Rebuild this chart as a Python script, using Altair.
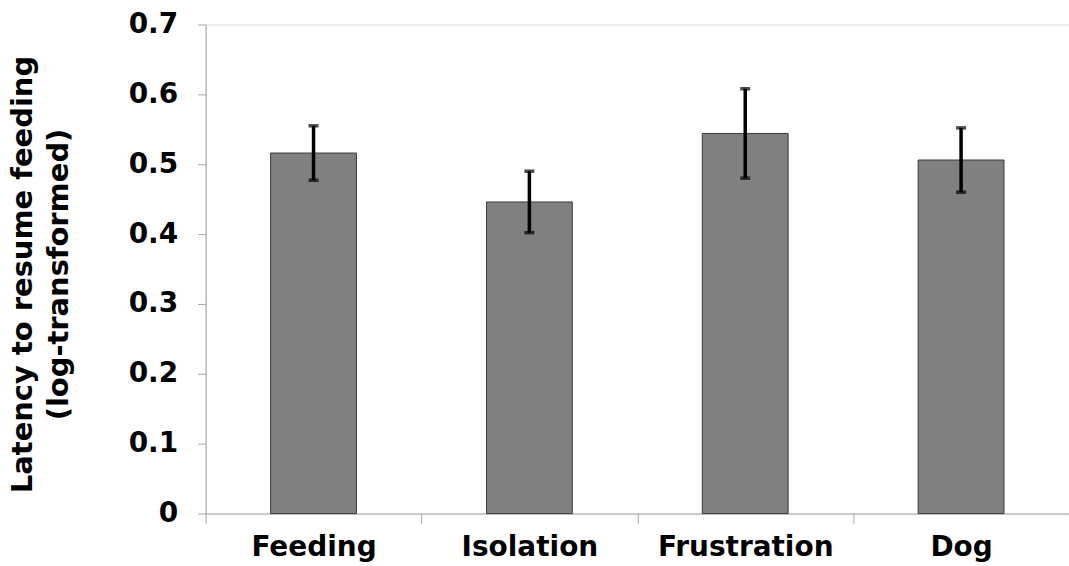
import altair as alt
import pandas as pd

# Condition means and standard errors (log-transformed latency)
conditions = ["Feeding", "Isolation", "Frustration", "Dog"]
means = [0.516, 0.446, 0.544, 0.506]
errors = [0.039, 0.044, 0.064, 0.046]

df = pd.DataFrame({"condition": conditions, "mean": means, "err": errors})
df["lo"] = df["mean"] - df["err"]
df["hi"] = df["mean"] + df["err"]

FONT = "DejaVu Sans"
AXIS_GRAY = "#a6a6a6"

x_enc = alt.X(
    "condition:N",
    sort=conditions,
    title=None,
    scale=alt.Scale(paddingInner=0, paddingOuter=0),
    axis=alt.Axis(
        labelAngle=0,
        labelFont=FONT,
        labelFontSize=28,
        labelFontWeight="bold",
        labelColor="black",
        labelPadding=10,
        tickBand="extent",
        tickSize=10,
        tickColor=AXIS_GRAY,
        domainColor=AXIS_GRAY,
        grid=False,
    ),
)

bars = alt.Chart(df).mark_bar(
    size=86, color="#808080", stroke="#3a3a3a", strokeWidth=1
).encode(
    x=x_enc,
    y=alt.Y(
        "mean:Q",
        scale=alt.Scale(domain=[0, 0.7], nice=False),
        title=["Latency to resume feeding", "(log-transformed)"],
        axis=alt.Axis(
            values=[0, 0.1, 0.2, 0.3, 0.4, 0.5, 0.6, 0.7],
            labelExpr="datum.value == 0 ? '0' : format(datum.value, '.1f')",
            labelFont=FONT,
            labelFontSize=28,
            labelFontWeight="bold",
            labelColor="black",
            labelPadding=20,
            tickSize=8,
            tickColor=AXIS_GRAY,
            domainColor=AXIS_GRAY,
            grid=False,
            titleFont=FONT,
            titleFontSize=29,
            titleFontWeight="bold",
            titleColor="black",
            titleLineHeight=36,
            titlePadding=55,
            titleY=250,
        ),
    ),
)

whiskers = alt.Chart(df).mark_rule(color="black", strokeWidth=3.5).encode(
    x=alt.X("condition:N", sort=conditions),
    y="lo:Q",
    y2="hi:Q",
)

caps_hi = alt.Chart(df).mark_tick(
    color="black", size=10, thickness=3.5, orient="horizontal"
).encode(x=alt.X("condition:N", sort=conditions), y="hi:Q")

caps_lo = alt.Chart(df).mark_tick(
    color="black", size=10, thickness=3.5, orient="horizontal"
).encode(x=alt.X("condition:N", sort=conditions), y="lo:Q")

chart = (
    alt.layer(bars, whiskers, caps_hi, caps_lo)
    .properties(
        width=865,
        height=490,
        autosize=alt.AutoSizeParams(type="none"),
        padding={"left": 206, "top": 24, "right": 0, "bottom": 52},
    )
    .configure_view(stroke=None)
    .configure(background="white")
)

chart.save("out.html", embed_options={"renderer": "svg", "actions": False})
